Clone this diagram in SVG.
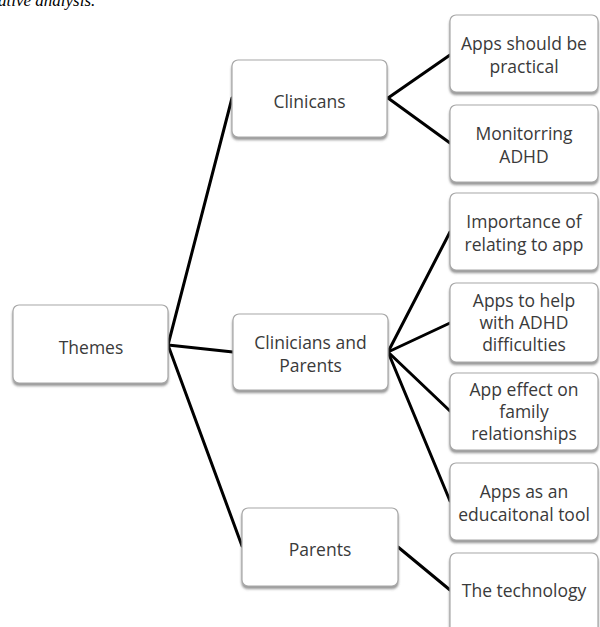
<svg xmlns="http://www.w3.org/2000/svg" width="600" height="627" viewBox="0 0 600 627">
<defs>
<filter id="sh" x="-10%" y="-10%" width="120%" height="130%">
<feDropShadow dx="0" dy="2.5" stdDeviation="1.2" flood-color="#666" flood-opacity="0.7"/>
</filter>
<style>
.box{fill:#fff;stroke:#a8a8a8;stroke-width:1.2;filter:url(#sh)}
.t{font-family:"Open Sans","Liberation Sans",sans-serif;font-size:17.5px;fill:#3a3a3a;text-anchor:middle}
.c{stroke:#000;stroke-width:3;fill:none;stroke-linecap:round}
</style>
</defs>
<rect width="600" height="627" fill="#fff"/>
<text x="-2" y="6" font-family="Liberation Serif,serif" font-style="italic" font-size="17" fill="#000">ative analysis.</text>
<g id="connectors">
<line class="c" x1="168" y1="345" x2="232" y2="98"/>
<line class="c" x1="168" y1="345" x2="233" y2="352"/>
<line class="c" x1="168" y1="345" x2="242" y2="546"/>
<line class="c" x1="388" y1="98" x2="450" y2="55"/>
<line class="c" x1="388" y1="98" x2="450" y2="143"/>
<line class="c" x1="388" y1="352" x2="450" y2="232"/>
<line class="c" x1="388" y1="352" x2="450" y2="323"/>
<line class="c" x1="388" y1="352" x2="450" y2="411"/>
<line class="c" x1="388" y1="352" x2="450" y2="501"/>
<line class="c" x1="398" y1="547" x2="450" y2="590"/>
</g>
<g id="themes"><rect class="box" x="13" y="305" width="155" height="78" rx="6"/><text class="t" x="91" y="354">Themes</text></g>
<g id="clinicans"><rect class="box" x="232" y="60" width="155" height="77" rx="6"/><text class="t" x="309.5" y="108">Clinicans</text></g>
<g id="clinicians-parents"><rect class="box" x="233" y="314" width="155" height="76" rx="6"/><text class="t" x="310.5" y="349">Clinicians and</text><text class="t" x="310.5" y="372">Parents</text></g>
<g id="parents"><rect class="box" x="242" y="508" width="156" height="78" rx="6"/><text class="t" x="320" y="556">Parents</text></g>
<g id="practical"><rect class="box" x="450" y="15" width="148" height="77" rx="6"/><text class="t" x="524" y="50">Apps should be</text><text class="t" x="524" y="73">practical</text></g>
<g id="monitoring"><rect class="box" x="450" y="105" width="148" height="77" rx="6"/><text class="t" x="524" y="140">Monitorring</text><text class="t" x="524" y="163">ADHD</text></g>
<g id="importance"><rect class="box" x="450" y="193" width="148" height="77" rx="6"/><text class="t" x="524" y="228">Importance of</text><text class="t" x="524" y="251">relating to app</text></g>
<g id="help"><rect class="box" x="450" y="283" width="148" height="79" rx="6"/><text class="t" x="524" y="307">Apps to help</text><text class="t" x="524" y="329">with ADHD</text><text class="t" x="524" y="351">difficulties</text></g>
<g id="family"><rect class="box" x="450" y="373" width="148" height="77" rx="6"/><text class="t" x="524" y="396">App effect on</text><text class="t" x="524" y="418">family</text><text class="t" x="524" y="440">relationships</text></g>
<g id="educational"><rect class="box" x="450" y="463" width="148" height="77" rx="6"/><text class="t" x="524" y="498">Apps as an</text><text class="t" x="524" y="521">educaitonal tool</text></g>
<g id="technology"><rect class="box" x="450" y="553" width="148" height="80" rx="6"/><text class="t" x="524" y="597">The technology</text></g>
</svg>
